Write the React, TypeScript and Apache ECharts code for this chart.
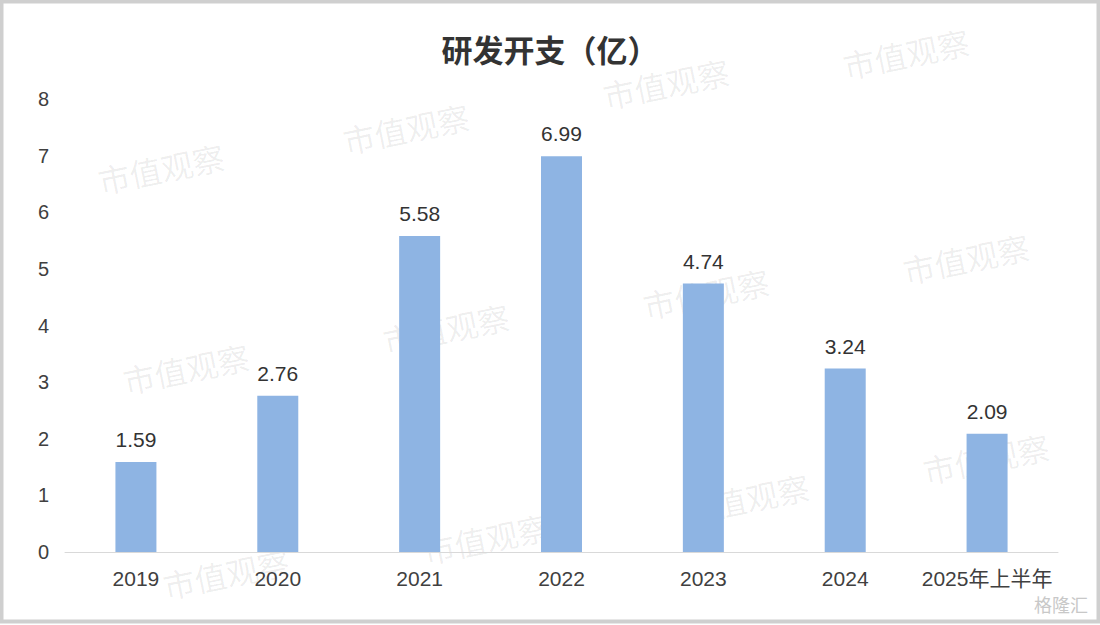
import React, { useEffect, useRef } from "react";
import * as echarts from "echarts";

const categories = ["2019", "2020", "2021", "2022", "2023", "2024", "2025年上半年"];
const values = [1.59, 2.76, 5.58, 6.99, 4.74, 3.24, 2.09];
const titleText = "研发开支（亿）";
const watermarkText = "市值观察";
const watermarkPositions: [number, number][] = [
  [95, 165], [340, 125], [600, 80], [840, 50],
  [120, 365], [380, 325], [640, 290], [900, 255],
  [160, 570], [420, 535], [680, 495], [920, 455],
];

export default function App() {
  const ref = useRef<HTMLDivElement>(null);
  useEffect(() => {
    document.body.style.margin = "0";
    const chart = echarts.init(ref.current!, null, { renderer: "svg" });
    const font = "'Liberation Sans', Arial, 'Noto Sans CJK SC', sans-serif";
    const wm: any[] = watermarkPositions.map(([x, y]) => ({
      type: "text",
      x,
      y,
      rotation: 0.2,
      z: 0,
      silent: true,
      style: {
        text: watermarkText,
        fill: "rgba(0,0,0,0.07)",
        font: "32px 'Noto Sans CJK SC', sans-serif",
      },
    }));
    chart.setOption({
      animation: false,
      backgroundColor: "#ffffff",
      textStyle: { fontFamily: font },
      title: {
        text: titleText,
        left: "center",
        top: 28,
        textStyle: { fontSize: 31, fontWeight: "bold", color: "#333", fontFamily: "'Noto Sans CJK SC', sans-serif" },
      },
      grid: { left: 65, right: 42, top: 99, bottom: 73, containLabel: false },
      xAxis: {
        type: "category",
        data: categories,
        axisLine: { lineStyle: { color: "#d9d9d9", width: 1 } },
        axisTick: { show: false },
        axisLabel: { color: "#404040", fontSize: 21, margin: 16, interval: 0, fontFamily: font },
      },
      yAxis: {
        type: "value",
        min: 0,
        max: 8,
        interval: 1,
        splitLine: { show: false },
        axisLine: { show: false },
        axisTick: { show: false },
        axisLabel: { color: "#404040", fontSize: 20, margin: 16, fontFamily: font },
      },
      series: [
        {
          type: "bar",
          data: values,
          barWidth: 41,
          itemStyle: { color: "#8EB4E3" },
          label: {
            show: true,
            position: "top",
            distance: 12,
            color: "#333",
            fontSize: 21,
            fontFamily: font,
            formatter: (p: any) => p.value.toFixed(2),
          },
        },
      ],
      graphic: [
        ...wm,
        {
          type: "rect",
          silent: true,
          z: 100,
          shape: { x: 1.5, y: 1.5, width: 1097, height: 620 },
          style: { fill: "none", stroke: "#cfcfcf", lineWidth: 4 },
        },
        {
          type: "text",
          right: 12,
          bottom: 12,
          z: 50,
          silent: true,
          style: { text: "格隆汇", fill: "#c8c8c8", font: "18px 'Noto Sans CJK SC', sans-serif" },
        },
      ],
    });
    return () => chart.dispose();
  }, []);
  return <div ref={ref} style={{ width: 1100, height: 625 }} />;
}
